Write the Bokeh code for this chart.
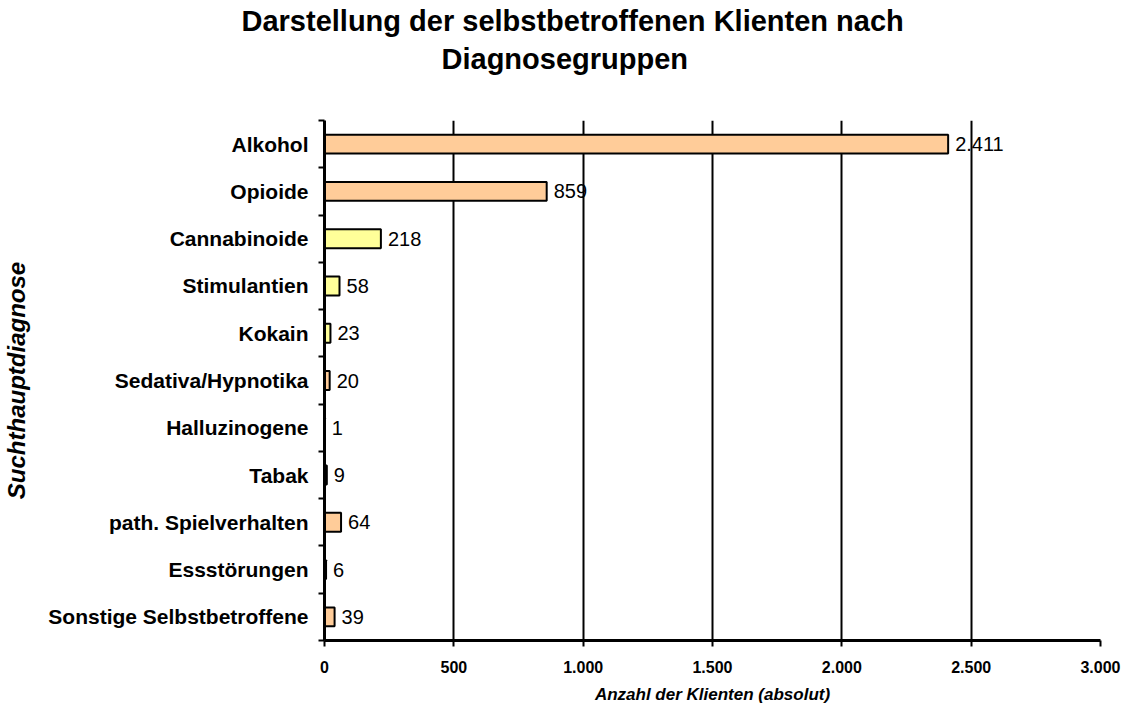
from bokeh.plotting import figure
from bokeh.models import ColumnDataSource, Range1d, FixedTicker, Title
from bokeh.core.properties import value
from bokeh.embed import file_html
from bokeh.resources import INLINE

categories = ["Alkohol", "Opioide", "Cannabinoide", "Stimulantien", "Kokain",
              "Sedativa/Hypnotika", "Halluzinogene", "Tabak", "path. Spielverhalten",
              "Essstörungen", "Sonstige Selbstbetroffene"]
counts = [2411, 859, 218, 58, 23, 20, 1, 9, 64, 6, 39]
colors = ["#FFCC99", "#FFCC99", "#FFFF99", "#FFFF99", "#FFFF99", "#FFCC99",
          "#FFCC99", "#FFCC99", "#FFCC99", "#FFCC99", "#FFCC99"]
x_ticks = [0, 500, 1000, 1500, 2000, 2500, 3000]
x_tick_labels = ["0", "500", "1.000", "1.500", "2.000", "2.500", "3.000"]
title_lines = ["Darstellung der selbstbetroffenen Klienten nach", "Diagnosegruppen"]

FONT = "Liberation Sans"

ypos = [i + 0.5 for i in range(len(categories))]
labels = [f"{v:,}".replace(",", ".") for v in counts]
src = ColumnDataSource(dict(y=ypos, v=counts, c=colors, lab=labels))

p = figure(width=1132, height=722, output_backend="svg", toolbar_location=None,
           x_range=Range1d(0, 3000), y_range=Range1d(len(categories), 0),
           min_border_left=323, min_border_right=32, min_border_top=120,
           min_border_bottom=82)
p.outline_line_color = None

# title: first line is the figure title (outermost); below it the second line,
# then an invisible spacer next to the frame
p.title.text = title_lines[0]
p.title.text_font = FONT
p.title.text_font_size = "29px"
p.title.text_font_style = "bold"
p.title.text_color = "black"
p.title.align = "left"
p.title.offset = -83
p.title.standoff = 5
spacer = Title(text=" ", text_font=FONT, text_font_size="1px", standoff=42)
t2 = Title(text=title_lines[1], text_font=FONT, text_font_size="29px",
           text_font_style="bold", text_color="black", align="left", offset=117,
           standoff=2)
p.add_layout(spacer, "above")
p.add_layout(t2, "above")

p.hbar(y="y", right="v", left=0, height=0.4, fill_color="c", line_color="black",
       line_width=2, source=src)
p.text(x="v", y="y", text="lab", x_offset=7, text_baseline="middle",
       text_align="left", text_font=value(FONT), text_font_size="20px",
       text_color="black", source=src)

# x axis
xa = p.xaxis[0]
xa.ticker = FixedTicker(ticks=x_ticks)
xa.major_label_overrides = {t: l for t, l in zip(x_ticks, x_tick_labels)}
xa.axis_line_width = 3
xa.axis_line_color = "black"
xa.major_tick_out = 6
xa.major_tick_in = 0
xa.major_tick_line_width = 2
xa.minor_tick_line_color = None
xa.major_label_standoff = 14
xa.major_label_text_font = FONT
xa.major_label_text_font_size = "16px"
xa.major_label_text_font_style = "bold"
xa.major_label_text_color = "black"
xa.axis_label = "Anzahl der Klienten (absolut)"
xa.axis_label_text_font = FONT
xa.axis_label_text_font_size = "17px"
xa.axis_label_text_font_style = "bold italic"
xa.axis_label_text_color = "black"
xa.axis_label_standoff = 9

# y axis
ya = p.yaxis[0]
ya.ticker = FixedTicker(ticks=ypos, minor_ticks=list(range(len(categories) + 1)))
ya.major_label_overrides = {y: c for y, c in zip(ypos, categories)}
ya.axis_line_width = 3
ya.axis_line_color = "black"
ya.major_tick_out = 0
ya.major_tick_in = 0
ya.major_tick_line_color = None
ya.minor_tick_out = 6
ya.minor_tick_in = 0
ya.minor_tick_line_width = 2
ya.minor_tick_line_color = "black"
ya.major_label_standoff = 10
ya.major_label_text_font = FONT
ya.major_label_text_font_size = "21px"
ya.major_label_text_font_style = "bold"
ya.major_label_text_color = "black"
ya.axis_label = "Suchthauptdiagnose"
ya.axis_label_text_font = FONT
ya.axis_label_text_font_size = "24px"
ya.axis_label_text_font_style = "bold italic"
ya.axis_label_text_color = "black"
ya.axis_label_standoff = 15

p.ygrid.visible = False
p.xgrid.ticker = FixedTicker(ticks=x_ticks[1:])
p.xgrid.grid_line_color = "black"
p.xgrid.grid_line_width = 2

open("out.html", "w").write(file_html(p, INLINE))
